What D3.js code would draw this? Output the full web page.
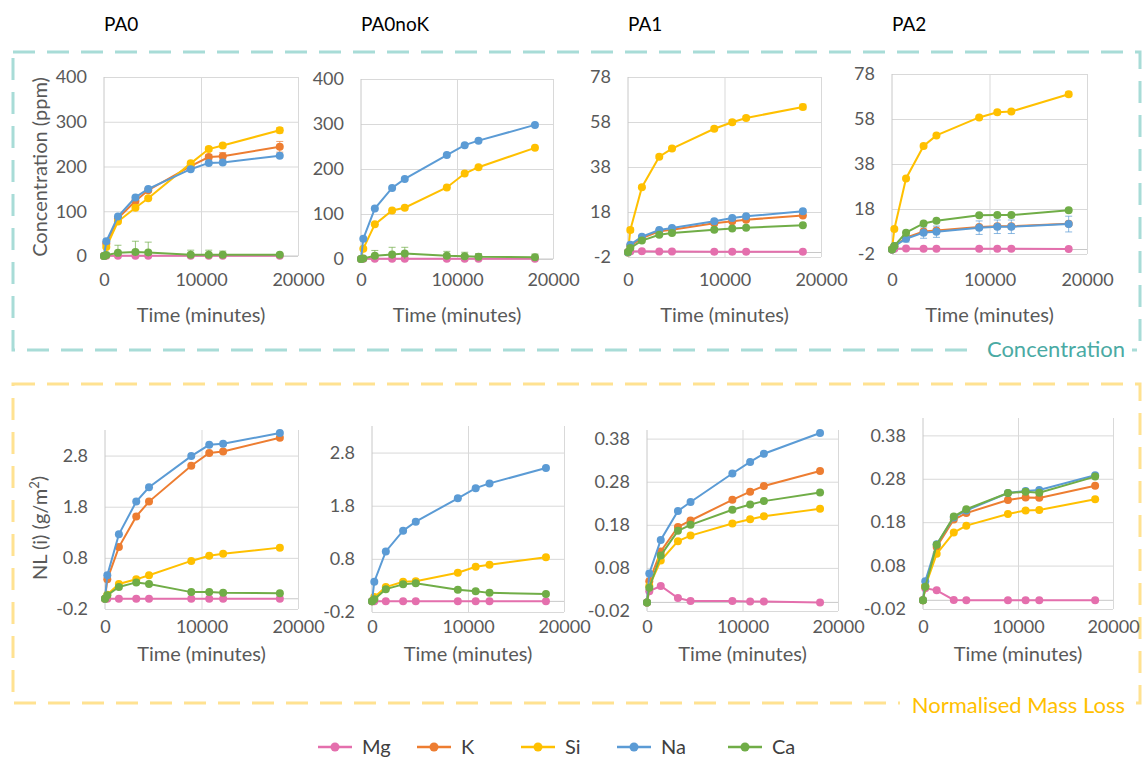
<!DOCTYPE html>
<html>
<head>
<meta charset="utf-8">
<script src="https://cdn.jsdelivr.net/npm/d3@7"></script>
<style>
  body { margin: 0; background: #fff; }
  text { font-family: Lato, "Open Sans", sans-serif; }
</style>
</head>
<body>
<div id="chart"></div>
<script>
// sampling times (minutes), same for every panel
const times = [0, 240, 1440, 3240, 4560, 8940, 10800, 12240, 18120];
const elements = ["Mg", "K", "Si", "Na", "Ca"];
const elementColors = ["#E46FAD", "#ED7D31", "#FFC000", "#5B9BD5", "#70AD47"];
const panelTitles = ["PA0", "PA0noK", "PA1", "PA2"];

const xTicks = [0, 10000, 20000];
const concTicks = [0, 100, 200, 300, 400];
const concTicksPA = [-2, 18, 38, 58, 78];
const nlTicksPA0 = [-0.2, 0.8, 1.8, 2.8];
const nlTicksPA = [-0.02, 0.08, 0.18, 0.28, 0.38];

// concentration (ppm) - PA0
const pa0ConcMg = [0, 0.3, 0.3, 0.3, 0.3, 0.3, 0.3, 0.3, 0.3];
const pa0ConcK  = [0, 28, 84, 123, 147, 201, 221, 223, 244];
const pa0ConcSi = [0, 20, 77, 108, 129, 207, 239, 247, 281];
const pa0ConcNa = [0, 33, 88, 131, 150, 194, 208, 209, 224];
const pa0ConcCa = [0, 2, 7, 9, 8, 3, 3, 3, 3];
const pa0ConcKErr  = [0, 2, 4, 5, 4, 6, 6, 8, 12];
const pa0ConcSiErr = [0, 2, 3, 3, 3, 4, 5, 4, 6];
const pa0ConcCaErr = [0, 2, 17, 24, 23, 10, 10, 8, 3];

// concentration (ppm) - PA0noK (no K)
const pa0noKConcMg = [0, 0.3, 0.3, 0.3, 0.3, 0.3, 0.3, 0.3, 0.3];
const pa0noKConcSi = [0, 23, 77, 108, 114, 159, 190, 204, 247];
const pa0noKConcNa = [0, 45, 112, 158, 178, 231, 253, 263, 298];
const pa0noKConcCa = [0, 1, 7, 10, 12, 7, 6, 5, 4];
const pa0noKConcCaErr = [0, 2, 12, 16, 14, 10, 9, 7, 7];

// concentration (ppm) - PA1
const pa1ConcMg = [0.2, 0.5, 0.6, 0.4, 0.4, 0.3, 0.3, 0.3, 0.3];
const pa1ConcK  = [0, 3, 6.4, 9.4, 10.1, 13, 13.9, 14.6, 16.4];
const pa1ConcSi = [0, 10, 29, 42.6, 46.2, 55, 57.9, 59.8, 64.7];
const pa1ConcNa = [0, 3.5, 7, 10, 10.9, 13.9, 15.3, 16.1, 18.3];
const pa1ConcCa = [0.2, 2, 5.3, 7.9, 8.7, 10.1, 10.7, 11, 12.1];
const pa1ConcSiErr = [0, 1, 0.5, 0.8, 0.6, 0.8, 1, 0.8, 1.2];

// concentration (ppm) - PA2
const pa2ConcMg = [0, 0.3, 0.4, 0.3, 0.3, 0.3, 0.3, 0.3, 0.2];
const pa2ConcK  = [0, 1.5, 5.3, 8, 8.5, 10, 10.3, 10.3, 11.5];
const pa2ConcSi = [0.2, 9.1, 31.6, 46, 50.7, 58.7, 61, 61.3, 69];
const pa2ConcNa = [0, 1.5, 4.8, 7.5, 7.9, 9.7, 10.1, 10.1, 11.3];
const pa2ConcCa = [0, 1.6, 7.5, 11.6, 12.8, 15.2, 15.3, 15.3, 17.4];
const pa2ConcSiErr = [0, 0.5, 0.5, 0.8, 0.6, 0.6, 0.8, 0.8, 1];
const pa2ConcNaErr = [0, 0.5, 1.5, 2.5, 2.5, 3, 3, 3, 3.5];

// NL(i) (g/m2) - PA0
const pa0NlMg = [0, 0, 0, 0, 0, 0, 0, 0, 0];
const pa0NlK  = [0, 0.38, 1.01, 1.61, 1.9, 2.6, 2.85, 2.88, 3.15];
const pa0NlSi = [0, 0.08, 0.29, 0.38, 0.46, 0.74, 0.84, 0.88, 1.0];
const pa0NlNa = [0, 0.46, 1.26, 1.9, 2.18, 2.79, 3.01, 3.03, 3.24];
const pa0NlCa = [0, 0.07, 0.23, 0.32, 0.29, 0.13, 0.13, 0.12, 0.11];

// NL(i) (g/m2) - PA0noK
const pa0noKNlMg = [0, 0, 0, 0, 0, 0, 0, 0, 0];
const pa0noKNlSi = [0, 0.08, 0.27, 0.37, 0.38, 0.54, 0.65, 0.69, 0.83];
const pa0noKNlNa = [0, 0.37, 0.94, 1.33, 1.5, 1.94, 2.13, 2.22, 2.51];
const pa0noKNlCa = [0, 0.04, 0.23, 0.32, 0.34, 0.22, 0.19, 0.16, 0.14];

// NL(i) (g/m2) - PA1
const pa1NlMg = [0, 0.026, 0.038, 0.01, 0.003, 0.003, 0.002, 0.002, 0];
const pa1NlK  = [0, 0.049, 0.118, 0.175, 0.19, 0.238, 0.257, 0.27, 0.305];
const pa1NlSi = [0, 0.038, 0.097, 0.142, 0.155, 0.183, 0.193, 0.2, 0.217];
const pa1NlNa = [0, 0.067, 0.145, 0.212, 0.233, 0.299, 0.326, 0.345, 0.393];
const pa1NlCa = [0, 0.034, 0.109, 0.166, 0.18, 0.215, 0.227, 0.235, 0.255];

// NL(i) (g/m2) - PA2
const pa2NlMg = [0, 0.028, 0.023, 0.001, 0, 0, 0, 0, 0];
const pa2NlK  = [0, 0.033, 0.123, 0.186, 0.201, 0.231, 0.237, 0.236, 0.264];
const pa2NlSi = [0, 0.032, 0.107, 0.156, 0.172, 0.199, 0.207, 0.208, 0.233];
const pa2NlNa = [0, 0.044, 0.129, 0.191, 0.207, 0.247, 0.252, 0.254, 0.288];
const pa2NlCa = [0, 0.031, 0.128, 0.193, 0.21, 0.247, 0.25, 0.248, 0.285];

const width = 1145;
const height = 762;

const svg = d3.select("div#chart").append("svg")
    .attr("width", width)
    .attr("height", height)

// series lists follow the legend order: Mg, K, Si, Na, Ca
const panels = [
    { title: 0, row: 0, box: [104, 298, 77, 256], yDomain: [0, 400], yTicks: concTicks,
      series: [pa0ConcMg, pa0ConcK, pa0ConcSi, pa0ConcNa, pa0ConcCa],
      errors: [null, pa0ConcKErr, pa0ConcSiErr, null, pa0ConcCaErr] },
    { title: 1, row: 0, box: [361, 553, 79, 259], yDomain: [0, 400], yTicks: concTicks,
      series: [pa0noKConcMg, null, pa0noKConcSi, pa0noKConcNa, pa0noKConcCa],
      errors: [null, null, null, null, pa0noKConcCaErr] },
    { title: 2, row: 0, box: [628, 821, 77, 257], yDomain: [-2, 78], yTicks: concTicksPA,
      series: [pa1ConcMg, pa1ConcK, pa1ConcSi, pa1ConcNa, pa1ConcCa],
      errors: [null, null, pa1ConcSiErr, null, null] },
    { title: 3, row: 0, box: [892, 1087, 74, 254], yDomain: [-2, 78], yTicks: concTicksPA,
      series: [pa2ConcMg, pa2ConcK, pa2ConcSi, pa2ConcNa, pa2ConcCa],
      errors: [null, null, pa2ConcSiErr, pa2ConcNaErr, null] },
    { row: 1, box: [105, 298, 430, 609], yDomain: [-0.2, 3.3], yTicks: nlTicksPA0,
      series: [pa0NlMg, pa0NlK, pa0NlSi, pa0NlNa, pa0NlCa], errors: [] },
    { row: 1, box: [372, 564, 426, 612], yDomain: [-0.2, 3.3], yTicks: nlTicksPA0,
      series: [pa0noKNlMg, null, pa0noKNlSi, pa0noKNlNa, pa0noKNlCa], errors: [] },
    { row: 1, box: [647, 838, 430, 611], yDomain: [-0.02, 0.4], yTicks: nlTicksPA,
      series: [pa1NlMg, pa1NlK, pa1NlSi, pa1NlNa, pa1NlCa], errors: [] },
    { row: 1, box: [923, 1113, 418, 609], yDomain: [-0.02, 0.42], yTicks: nlTicksPA,
      series: [pa2NlMg, pa2NlK, pa2NlSi, pa2NlNa, pa2NlCa], errors: [] }
];

const rowTickY = [280, 627];
const rowTitleY = [315, 654];

// dashed section frames
const frames = [
    { y0: 52, y1: 350, stroke: "#A8DCD7", label: "Concentration", fill: "#4AAAA4", base: 357, lx: 978 },
    { y0: 384, y1: 703, stroke: "#FFE291", label: "Normalised Mass Loss", fill: "#FFC000", base: 713, lx: 900 }
];
frames.forEach(f => {
    svg.append("rect")
        .attr("x", 13).attr("y", f.y0)
        .attr("width", 1127).attr("height", f.y1 - f.y0)
        .attr("fill", "none")
        .attr("stroke", f.stroke)
        .attr("stroke-width", 3)
        .attr("stroke-dasharray", "22 12")
    svg.append("rect")
        .attr("x", f.lx).attr("y", f.y1 - 12)
        .attr("width", 1132 - f.lx).attr("height", 24)
        .attr("fill", "#fff")
    svg.append("text")
        .attr("x", 1125).attr("y", f.base)
        .attr("text-anchor", "end")
        .attr("font-size", 22)
        .attr("fill", f.fill)
        .text(f.label)
});

const line = d3.line().defined(d => d.v != null)

panels.forEach((p, i) => {
    const [left, right, top, bottom] = p.box;
    const x = d3.scaleLinear().domain([0, 20000]).range([left, right]);
    const y = d3.scaleLinear().domain(p.yDomain).range([bottom, top]);
    const g = svg.append("g").attr("class", "panel");

    // horizontal gridlines
    g.append("g")
        .attr("transform", `translate(${left},0)`)
        .call(d3.axisLeft(y).tickValues(p.yTicks).tickSize(-(right - left)).tickFormat(""))
        .call(a => a.select(".domain").remove())
        .call(a => a.selectAll("line").attr("stroke", "#D9D9D9"));
    // vertical gridlines
    g.append("g")
        .attr("transform", `translate(0,${bottom})`)
        .call(d3.axisBottom(x).tickValues(xTicks.slice(1)).tickSize(-(bottom - top)).tickFormat(""))
        .call(a => a.select(".domain").remove())
        .call(a => a.selectAll("line").attr("stroke", "#D9D9D9"));
    // axis lines (y axis at x=0, x axis crossing at y=0)
    g.append("line")
        .attr("x1", x(0)).attr("x2", x(0))
        .attr("y1", top).attr("y2", bottom)
        .attr("stroke", "#C8C8C8")
    g.append("line")
        .attr("x1", left).attr("x2", right)
        .attr("y1", y(0)).attr("y2", y(0))
        .attr("stroke", "#C8C8C8")

    // tick labels
    const yAxis = g.append("g")
        .attr("transform", `translate(${left},0)`)
        .call(d3.axisLeft(y).tickValues(p.yTicks).tickSize(0).tickPadding(17).tickFormat(String));
    yAxis.select(".domain").remove();
    yAxis.selectAll("text")
        .attr("font-size", 18)
        .attr("fill", "#595959")
        .style("font-family", "Lato, sans-serif")

    const xAxis = g.append("g")
        .attr("transform", `translate(0,${rowTickY[p.row]})`)
        .call(d3.axisBottom(x).tickValues(xTicks).tickSize(0).tickPadding(0).tickFormat(String));
    xAxis.select(".domain").remove();
    xAxis.selectAll("text")
        .attr("y", 0).attr("dy", "0.35em")
        .attr("font-size", 18)
        .attr("fill", "#595959")
        .style("font-family", "Lato, sans-serif")

    g.append("text")
        .attr("x", (left + right) / 2)
        .attr("y", rowTitleY[p.row])
        .attr("dy", "0.35em")
        .attr("text-anchor", "middle")
        .attr("font-size", 20)
        .attr("fill", "#595959")
        .text("Time (minutes)")

    if (p.title != null) {
        svg.append("text")
            .attr("x", left)
            .attr("y", 31)
            .attr("font-size", 19)
            .attr("fill", "#000")
            .text(panelTitles[p.title])
    }

    // clip for error bars
    const clipId = "clip" + i;
    svg.append("clipPath").attr("id", clipId)
        .append("rect")
        .attr("x", left - 10).attr("y", top)
        .attr("width", right - left + 20).attr("height", bottom - top);

    p.series.forEach((vals, s) => {
        if (!vals) return;
        const color = elementColors[s];
        const pts = times.map((t, k) => ({ t: t, v: vals[k] }));
        line.x(d => x(d.t)).y(d => y(d.v));

        const err = p.errors[s];
        if (err) {
            const eg = g.append("g").attr("clip-path", `url(#${clipId})`);
            pts.forEach((d, k) => {
                if (!err[k]) return;
                const cx = x(d.t), y1 = y(d.v - err[k]), y2 = y(d.v + err[k]);
                eg.append("line").attr("x1", cx).attr("x2", cx).attr("y1", y1).attr("y2", y2)
                    .attr("stroke", color).attr("stroke-width", 1).attr("opacity", 0.7);
                [y1, y2].forEach(yy => eg.append("line")
                    .attr("x1", cx - 3.5).attr("x2", cx + 3.5).attr("y1", yy).attr("y2", yy)
                    .attr("stroke", color).attr("stroke-width", 1).attr("opacity", 0.7));
            });
        }

        g.append("path")
            .datum(pts)
            .attr("fill", "none")
            .attr("stroke", color)
            .attr("stroke-width", 2)
            .attr("d", line);
        g.selectAll(".pt" + s)
            .data(pts.filter(d => d.v != null))
            .enter().append("circle")
            .attr("cx", d => x(d.t))
            .attr("cy", d => y(d.v))
            .attr("r", 4)
            .attr("fill", color);
    });
});

// y axis titles
svg.append("text")
    .attr("transform", "translate(40,167) rotate(-90)")
    .attr("text-anchor", "middle")
    .attr("dy", "0.35em")
    .attr("font-size", 20)
    .attr("fill", "#595959")
    .text("Concentration (ppm)")
const nl = svg.append("text")
    .attr("transform", "translate(40,528) rotate(-90)")
    .attr("text-anchor", "middle")
    .attr("dy", "0.35em")
    .attr("font-size", 20)
    .attr("fill", "#595959")
nl.append("tspan").text("NL (i) (g/m")
nl.append("tspan").attr("font-size", 13).attr("dy", "-0.6em").text("2")
nl.append("tspan").attr("dy", "0.35em").text(")")

// legend
const legendX = [318, 417, 521, 617, 728];
const legend = svg.append("g").attr("class", "legend")
elements.forEach((name, i) => {
    const lx = legendX[i];
    legend.append("line")
        .attr("x1", lx).attr("x2", lx + 34)
        .attr("y1", 747).attr("y2", 747)
        .attr("stroke", elementColors[i])
        .attr("stroke-width", 2.5)
    legend.append("circle")
        .attr("cx", lx + 17).attr("cy", 747).attr("r", 4.5)
        .attr("fill", elementColors[i])
    legend.append("text")
        .attr("x", lx + 44).attr("y", 747)
        .attr("dy", "0.35em")
        .attr("font-size", 20)
        .attr("fill", "#404040")
        .text(name)
});
</script>
</body>
</html>
